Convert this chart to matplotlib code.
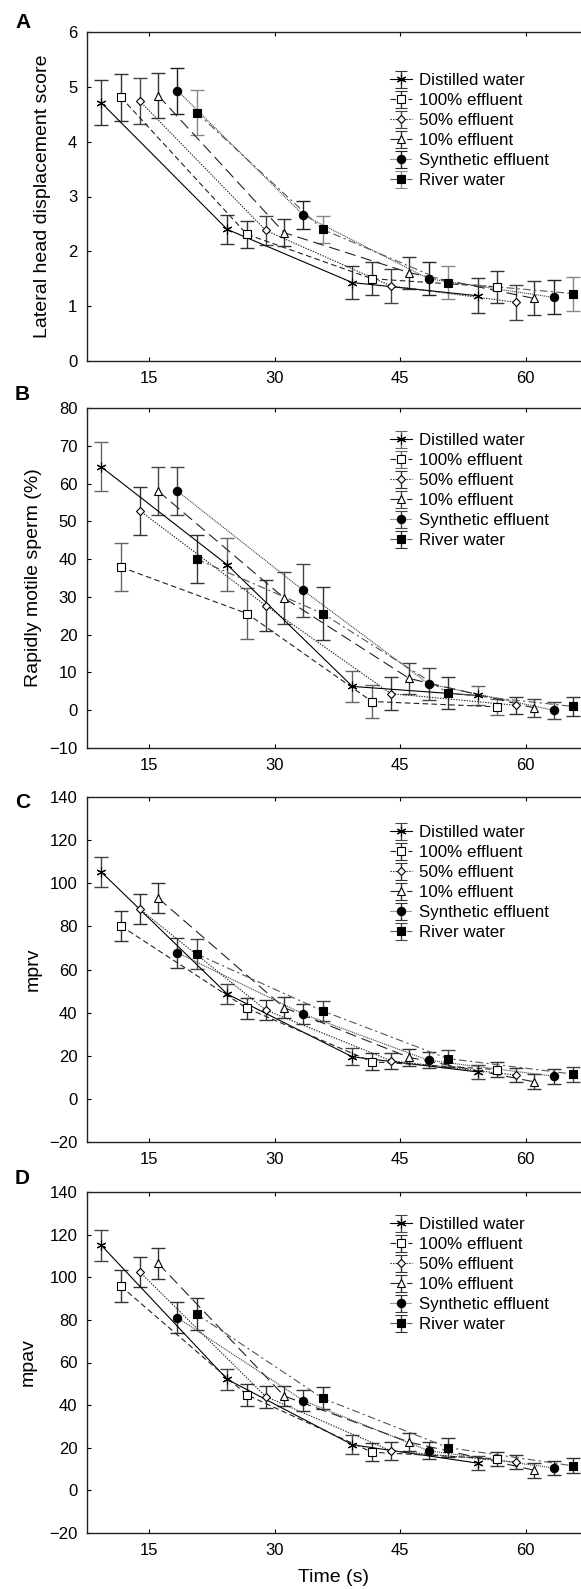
import matplotlib
matplotlib.use("Agg")
import matplotlib.pyplot as plt
import numpy as np

plt.rcParams['font.family'] = ['Liberation Sans', 'DejaVu Sans']

# time groups and per-series offset (s)
times = [9.3, 24.35, 39.3, 54.25]
offsets = [0.0, 2.35, 4.6, 6.8, 9.1, 11.4]

series_names = ["Distilled water", "100% effluent", "50% effluent",
                "10% effluent", "Synthetic effluent", "River water"]

# panel A - lateral head displacement score
lhd_mean = [[4.71, 2.40, 1.43, 1.19],
            [4.81, 2.31, 1.50, 1.35],
            [4.74, 2.38, 1.37, 1.07],
            [4.84, 2.34, 1.61, 1.14],
            [4.93, 2.66, 1.50, 1.16],
            [4.53, 2.40, 1.43, 1.23]]
lhd_err = [[0.41, 0.26, 0.30, 0.32],
           [0.43, 0.25, 0.30, 0.30],
           [0.42, 0.26, 0.31, 0.32],
           [0.41, 0.25, 0.29, 0.31],
           [0.42, 0.25, 0.30, 0.31],
           [0.41, 0.25, 0.30, 0.31]]

# panel B - rapidly motile sperm (%)
rms_mean = [[64.4, 38.5, 6.3, 3.9],
            [37.9, 25.6, 2.3, 0.9],
            [52.8, 27.7, 4.4, 1.3],
            [58.0, 29.7, 8.4, 0.6],
            [58.0, 31.7, 7.0, 0.0],
            [40.0, 25.6, 4.6, 1.0]]
rms_err = [[6.5, 7.0, 4.2, 2.5],
           [6.4, 6.7, 4.4, 2.1],
           [6.4, 6.8, 4.3, 2.3],
           [6.4, 7.0, 4.2, 2.4],
           [6.4, 7.0, 4.2, 2.3],
           [6.4, 6.9, 4.2, 2.4]]

# panel C - mprv
mprv_mean = [[105.2, 48.6, 19.5, 12.5],
             [80.2, 42.0, 17.2, 13.6],
             [88.0, 41.2, 17.7, 11.0],
             [93.1, 42.3, 19.2, 7.9],
             [67.8, 39.3, 17.9, 10.5],
             [67.2, 40.8, 18.7, 11.5]]
mprv_err = [[7.0, 4.5, 4.0, 3.4],
            [7.0, 4.8, 3.9, 3.3],
            [7.0, 4.5, 3.8, 3.4],
            [7.1, 4.8, 4.1, 3.5],
            [7.0, 4.7, 3.7, 3.4],
            [6.8, 4.7, 3.9, 3.5]]

# panel D - mpav
mpav_mean = [[115.0, 52.1, 21.4, 12.8],
             [95.8, 44.8, 17.9, 14.8],
             [102.5, 44.0, 18.6, 13.3],
             [106.5, 44.3, 22.6, 9.4],
             [81.0, 42.1, 18.6, 10.5],
             [82.7, 43.2, 20.1, 11.5]]
mpav_err = [[7.3, 4.8, 4.5, 3.4],
            [7.4, 5.0, 4.1, 3.4],
            [7.2, 5.2, 4.3, 3.5],
            [7.2, 4.8, 4.3, 3.5],
            [7.3, 5.0, 4.1, 3.3],
            [7.4, 5.2, 4.3, 3.5]]

x_ticks = [15, 30, 45, 60]

markers = [(6, 2, 0), 's', 'D', '^', 'o', 's']
marker_sizes = [7, 5.5, 4.2, 5.2, 6, 5.5]
face_colors = ['black', 'white', 'white', 'white', 'black', 'black']
line_styles = ['-', (0, (5, 3)), (0, (1.2, 1.2)), (0, (10, 5)),
               (0, (1, 0.8)), (0, (7, 3, 2, 3))]
line_colors = ['black', '#222222', '#222222', '#222222', '#444444', '#555555']

panels = [
    dict(label='A', mean=lhd_mean, err=lhd_err, ylim=(0, 6), yticks=[0, 1, 2, 3, 4, 5, 6],
         ylabel='Lateral head displacement score',
         ecolors=['#333333', '#333333', '#444444', '#333333', '#222222', '#888888'],
         box=(32, 361), label_y=23, ylabel_x=42, legend_top=73),
    dict(label='B', mean=rms_mean, err=rms_err, ylim=(-10, 80), yticks=list(range(-10, 81, 10)),
         ylabel='Rapidly motile sperm (%)',
         ecolors=['#666666', '#666666', '#333333', '#444444', '#444444', '#333333'],
         box=(408, 748), label_y=395, ylabel_x=33, legend_top=433),
    dict(label='C', mean=mprv_mean, err=mprv_err, ylim=(-20, 140), yticks=list(range(-20, 141, 20)),
         ylabel='mprv',
         ecolors=['#444444', '#333333', '#333333', '#333333', '#333333', '#444444'],
         box=(797, 1142), label_y=802, ylabel_x=33, legend_top=825),
    dict(label='D', mean=mpav_mean, err=mpav_err, ylim=(-20, 140), yticks=list(range(-20, 141, 20)),
         ylabel='mpav',
         ecolors=['#444444', '#333333', '#333333', '#333333', '#333333', '#333333'],
         box=(1192, 1533), label_y=1178, ylabel_x=28, legend_top=1217),
]

W, H = 581, 1589
fig = plt.figure(figsize=(W / 100, H / 100), dpi=100)

left_px = 87
px_per_unit = 8.37
x_left = 15 - (149 - left_px) / px_per_unit
x_right = x_left + (W - left_px) / px_per_unit
ax_w = W - left_px

for p in panels:
    top, bottom = p['box']
    ax = fig.add_axes([left_px / W, 1 - bottom / H, ax_w / W, (bottom - top) / H])
    for i, name in enumerate(series_names):
        xs = np.array(times) + offsets[i]
        ax.errorbar(xs, p['mean'][i], yerr=p['err'][i],
                    fmt='none', ecolor=p['ecolors'][i], elinewidth=1.0,
                    capsize=4.7, capthick=1.0, zorder=2)
        ax.plot(xs, p['mean'][i], linestyle=line_styles[i], color=line_colors[i],
                linewidth=0.8, zorder=3)
        ax.plot(xs, p['mean'][i], linestyle='none', marker=markers[i],
                markersize=marker_sizes[i], markerfacecolor=face_colors[i],
                markeredgecolor='black', markeredgewidth=0.8, zorder=4)
    handles = []
    for i, name in enumerate(series_names):
        h = ax.errorbar([np.nan], [np.nan], yerr=[1], linestyle=line_styles[i],
                        color=line_colors[i], linewidth=0.8,
                        marker=markers[i], markersize=marker_sizes[i],
                        markerfacecolor=face_colors[i], markeredgecolor='black',
                        markeredgewidth=0.8, ecolor=p['ecolors'][i],
                        elinewidth=1.0, capsize=4, label=name)
        handles.append(h)
    leg_x = (390 - left_px) / ax_w
    leg_y = (bottom - p['legend_top']) / (bottom - top)
    ax.legend(handles=handles, loc='upper left', bbox_to_anchor=(leg_x, leg_y),
              frameon=False, fontsize=12.2, handlelength=1.3, handletextpad=0.4,
              labelspacing=0.3, borderaxespad=0, borderpad=0)

    ax.set_xlim(x_left, x_right)
    ax.set_ylim(*p['ylim'])
    ax.set_xticks(x_ticks)
    ax.set_yticks(p['yticks'])
    ax.tick_params(direction='in', length=3, width=0.8, labelsize=12,
                   top=True, bottom=True, left=True, right=False, pad=7)
    ax.spines['right'].set_visible(False)
    for s in ['left', 'top', 'bottom']:
        ax.spines[s].set_linewidth(1.0)
        ax.spines[s].set_color('#222222')
    ax.set_ylabel(p['ylabel'], fontsize=14)
    # label anchor sits on the right side of the rotated text
    ax.yaxis.set_label_coords((p['ylabel_x'] + 9 - left_px) / ax_w, 0.5)
    fig.text(15 / W, 1 - p['label_y'] / H, p['label'], fontsize=15, fontweight='bold',
             ha='left', va='center')

fig.text((left_px + ax_w / 2) / W, 1 - 1577 / H, 'Time (s)', fontsize=14,
         ha='center', va='center')

fig.savefig('out.png', dpi=100)
